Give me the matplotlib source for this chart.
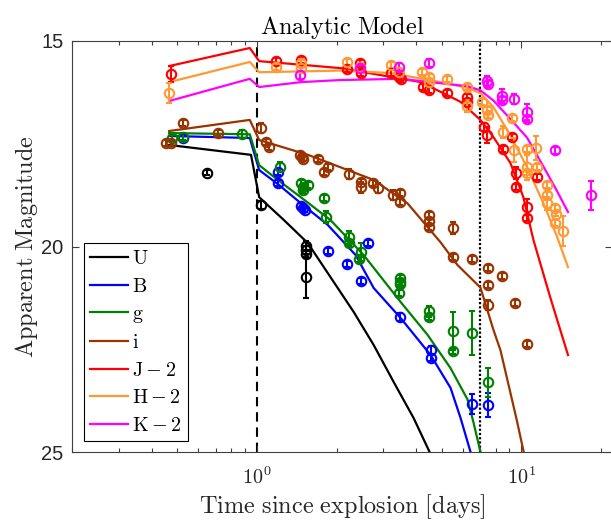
import numpy as np
import matplotlib
matplotlib.use('Agg')
from matplotlib import pyplot as plt
from matplotlib.ticker import FixedLocator, NullFormatter, FuncFormatter

plt.rcParams['mathtext.fontset'] = 'cm'

# model curves (days, apparent magnitude)
u_model_t = [0.466, 0.95, 1.02, 1.264, 1.557, 1.952, 2.323, 2.764, 3.289, 3.912, 4.496]
u_model_m = [17.53, 17.77, 18.80, 19.355, 19.915, 20.864, 21.594, 22.397, 23.297, 24.173, 25.0]
b_model_t = [0.466, 0.94, 1.02, 1.21, 1.5, 1.85, 2.363, 2.764, 3.494, 4.535, 5.396, 5.886, 6.421]
b_model_m = [17.31, 17.36, 18.14, 18.5, 19.0, 19.47, 20.21, 21.01, 21.74, 22.64, 23.44, 24.17, 25.0]
g_model_t = [0.466, 0.94, 1.02, 1.21, 1.5, 1.9, 2.534, 3.494, 4.418, 5.396, 6.254, 6.6, 7.0]
g_model_m = [17.24, 17.27, 18.02, 18.4, 18.85, 19.36, 20.21, 21.35, 22.15, 22.96, 23.72, 24.3, 25.0]
i_model_t = [0.466, 0.94, 1.02, 1.56, 2.76, 3.71, 4.95, 5.73, 7.0, 7.84, 8.33, 9.6, 10.2]
i_model_m = [17.19, 16.92, 17.41, 17.77, 18.38, 18.95, 19.9, 20.45, 21.0, 22.03, 22.52, 24.22, 25.0]
j_model_t = [0.466, 0.94, 1.02, 2.07, 4.16, 5.07, 5.886, 7.0, 7.841, 9.088, 10.17, 11.1, 12.87, 15.0]
j_model_m = [15.61, 15.17, 15.49, 15.66, 16.0, 16.27, 16.48, 16.92, 17.34, 17.97, 18.8, 19.84, 21.25, 22.64]
h_model_t = [0.466, 0.94, 1.02, 2.07, 3.2, 4.95, 6.25, 7.0, 7.84, 9.09, 10.5, 12.1, 13.65, 15.0]
h_model_m = [16.0, 15.51, 15.76, 15.72, 15.78, 16.0, 16.14, 16.27, 16.61, 17.3, 18.07, 18.94, 19.77, 20.5]
k_model_t = [0.466, 0.94, 1.02, 1.47, 2.07, 3.49, 6.25, 7.0, 7.84, 9.09, 10.5, 12.1, 13.5, 15.0]
k_model_m = [16.46, 15.92, 16.12, 16.0, 15.95, 15.92, 16.1, 16.2, 16.45, 16.9, 17.35, 18.05, 18.6, 19.16]

# observations
u_t = [0.648, 1.035, 1.53, 1.53, 1.53, 1.53]
u_m = [18.20, 18.99, 19.98, 20.08, 20.18, 20.75]
u_e = [0.05, 0.1, 0.12, 0.1, 0.1, 0.5]

b_t = [0.526, 1.2, 1.2, 1.47, 1.5, 1.52, 1.85, 2.19, 2.47, 2.64, 3.49, 4.54, 4.54, 6.52, 7.5]
b_m = [17.36, 18.18, 18.46, 19.02, 19.07, 19.1, 20.11, 20.43, 20.84, 19.92, 21.71, 22.52, 22.72, 23.83, 23.86]
b_e = [0.07, 0.07, 0.07, 0.07, 0.07, 0.07, 0.07, 0.07, 0.07, 0.07, 0.1, 0.1, 0.07, 0.25, 0.3]

g_t = [0.478, 0.526, 0.88, 1.22, 1.47, 1.49, 1.5, 1.56, 1.79, 1.83, 2.22, 2.22, 2.47, 2.44,
       3.49, 3.49, 3.49, 3.46, 4.46, 4.46, 5.5, 5.5, 6.48, 7.5]
g_m = [17.36, 17.33, 17.26, 18.07, 18.45, 18.55, 18.62, 18.5, 18.82, 19.28, 19.78, 19.92, 20.14, 20.3,
       20.77, 20.86, 20.92, 21.13, 21.58, 21.72, 22.06, 22.55, 22.1, 23.3]
g_e = [0.07, 0.07, 0.1, 0.12, 0.07, 0.07, 0.07, 0.07, 0.07, 0.15, 0.15, 0.07, 0.22, 0.07,
       0.07, 0.07, 0.07, 0.07, 0.14, 0.07, 0.46, 0.07, 0.53, 0.35]

i_t = [0.455, 0.474, 0.526, 0.71, 1.035, 1.08, 1.11, 1.46, 1.48, 1.5, 1.7, 1.79, 1.85, 2.22,
       2.47, 2.47, 2.74, 2.86, 3.26, 3.49, 3.49, 4.46, 4.46, 4.46, 5.5, 5.5, 6.48, 7.5, 7.5,
       8.47, 7.5, 9.47, 10.5]
i_m = [17.48, 17.48, 17.0, 17.24, 17.12, 17.46, 17.58, 17.78, 17.82, 17.86, 17.87, 18.19, 18.07, 18.24,
       18.42, 18.56, 18.46, 18.58, 18.75, 18.7, 18.92, 19.23, 19.38, 19.53, 19.55, 20.26, 20.31, 20.52, 20.94,
       20.72, 21.42, 21.38, 22.37]
i_e = [0.07, 0.07, 0.07, 0.07, 0.12, 0.07, 0.07, 0.07, 0.07, 0.07, 0.07, 0.07, 0.07, 0.12,
       0.07, 0.14, 0.07, 0.12, 0.12, 0.07, 0.07, 0.07, 0.07, 0.07, 0.15, 0.07, 0.07, 0.07, 0.07,
       0.07, 0.12, 0.07, 0.07]

j_t = [0.474, 1.18, 1.47, 2.19, 2.45, 2.47, 3.2, 3.46, 3.52, 4.23, 4.46, 5.21, 6.25, 6.25,
       7.2, 7.4, 8.5, 9.2, 9.5, 9.5, 10.5, 10.5, 11.5]
j_m = [15.8, 15.49, 15.47, 15.68, 15.54, 15.78, 15.78, 15.88, 15.93, 16.12, 16.19, 16.27, 16.36, 16.48,
       17.09, 17.29, 17.63, 17.34, 18.21, 18.55, 19.04, 19.31, 18.31]
j_e = [0.2, 0.07, 0.07, 0.07, 0.07, 0.07, 0.07, 0.07, 0.07, 0.07, 0.07, 0.07, 0.07, 0.07,
       0.1, 0.2, 0.07, 0.07, 0.15, 0.07, 0.2, 0.07, 0.07]

h_t = [0.466, 1.18, 1.47, 1.47, 2.2, 2.45, 3.2, 3.46, 4.2, 4.46, 4.46, 5.21, 6.25, 6.25, 7.1, 7.4, 7.45,
       8.5, 9.2, 9.4, 10.5, 11.4, 10.5, 10.5, 11.5, 12.5, 12.5, 12.5, 13.4, 13.5, 13.4, 14.4]
h_m = [16.26, 15.63, 15.54, 15.65, 15.52, 15.64, 15.58, 15.75, 15.75, 15.87, 16.0, 15.92, 16.12, 16.58, 16.48, 16.68, 16.8,
       17.21, 16.87, 17.65, 17.63, 17.6, 18.07, 18.2, 18.07, 18.5, 18.75, 18.95, 19.06, 19.2, 19.43, 19.62]
h_e = [0.25, 0.07, 0.07, 0.07, 0.07, 0.07, 0.07, 0.07, 0.07, 0.07, 0.07, 0.07, 0.07, 0.15, 0.07, 0.07, 0.07,
       0.15, 0.07, 0.3, 0.07, 0.3, 0.3, 0.07, 0.07, 0.07, 0.07, 0.15, 0.07, 0.07, 0.07, 0.37]

k_t = [1.45, 2.45, 3.46, 4.46, 7.4, 7.45, 8.46, 8.46, 9.4, 10.5, 10.5, 13.4, 18.4]
k_m = [15.83, 15.66, 15.63, 15.54, 15.98, 16.05, 16.33, 16.43, 16.41, 16.73, 16.9, 17.66, 18.75]
k_e = [0.1, 0.07, 0.1, 0.1, 0.12, 0.07, 0.15, 0.07, 0.12, 0.2, 0.07, 0.08, 0.35]

labels = [r'$\mathrm{U}$', r'$\mathrm{B}$', r'$\mathrm{g}$', r'$\mathrm{i}$',
          r'$\mathrm{J} - 2$', r'$\mathrm{H} - 2$', r'$\mathrm{K} - 2$']
colors = ['k', '#0000ff', '#008000', '#993300', '#ff0000', '#ff9933', '#ff00ff']

models = [(u_model_t, u_model_m), (b_model_t, b_model_m), (g_model_t, g_model_m),
          (i_model_t, i_model_m), (j_model_t, j_model_m), (h_model_t, h_model_m),
          (k_model_t, k_model_m)]
obs = [(u_t, u_m, u_e), (b_t, b_m, b_e), (g_t, g_m, g_e), (i_t, i_m, i_e),
       (j_t, j_m, j_e), (h_t, h_m, h_e), (k_t, k_m, k_e)]

fig = plt.figure(figsize=(6.11, 5.21), dpi=100)
ax = fig.add_axes([72/611, 69/521, 540/611, 411/521])

handles = []
for (mt, mm), (t, m, e), c, lab in zip(models, obs, colors, labels):
    ln, = ax.plot(mt, mm, '-', color=c, lw=1.6, label=lab, zorder=2)
    handles.append(ln)
    ax.errorbar(t, m, yerr=e, fmt='o', mfc='none', mec=c, ecolor=c, ms=6.8, mew=1.5,
                elinewidth=1.5, capsize=2.5, capthick=1.5, zorder=3)

ax.axvline(1, color='k', lw=1.5, dashes=(4.5, 2.8), zorder=1)
ax.axvline(7, color='k', lw=1.6, dashes=(1.0, 0.9), zorder=1)

ax.set_xscale('log')
ax.set_xlim(0.2, 22.0)
ax.set_ylim(25, 15)
ax.set_yticks([15, 20, 25])
ax.xaxis.set_major_locator(FixedLocator([1, 10]))
ax.xaxis.set_minor_locator(FixedLocator([0.2, 0.3, 0.4, 0.5, 0.6, 0.7, 0.8, 0.9,
                                         2, 3, 4, 5, 6, 7, 8, 9, 20]))
ax.xaxis.set_minor_formatter(NullFormatter())
ax.xaxis.set_major_formatter(FuncFormatter(lambda v, p: r'$\mathsf{10^{%d}}$' % round(np.log10(v))))
for lbl in ax.get_yticklabels():
    lbl.set_family('Liberation Sans')

ax.tick_params(which='both', direction='in', top=True, right=True, color='#404040',
               labelcolor='#262626', width=0.8, labelsize=14.5)
ax.tick_params(which='major', length=5)
ax.tick_params(which='minor', length=3)
ax.tick_params(axis='x', pad=10.5)
ax.tick_params(axis='y', pad=6)
for sp in ax.spines.values():
    sp.set_color('#404040')
    sp.set_linewidth(0.8)

ax.set_title(r'$\mathrm{Analytic\ Model}$', fontsize=17.5, pad=5)
ax.set_xlabel(r'$\mathrm{Time\ since\ explosion\ [days]}$', fontsize=17.5, color='#262626', labelpad=3)
ax.set_ylabel(r'$\mathrm{Apparent\ Magnitude}$', fontsize=17.5, color='#262626', labelpad=1)

leg = ax.legend(handles=handles, loc='lower left', bbox_to_anchor=(0.022, 0.027),
                borderaxespad=0, fontsize=14.5, handlelength=1.9, handletextpad=0.2,
                labelspacing=0.42, borderpad=0.3, fancybox=False, framealpha=1)
leg.get_frame().set_edgecolor('k')
leg.get_frame().set_linewidth(0.8)

fig.savefig('out.png', dpi=100)
